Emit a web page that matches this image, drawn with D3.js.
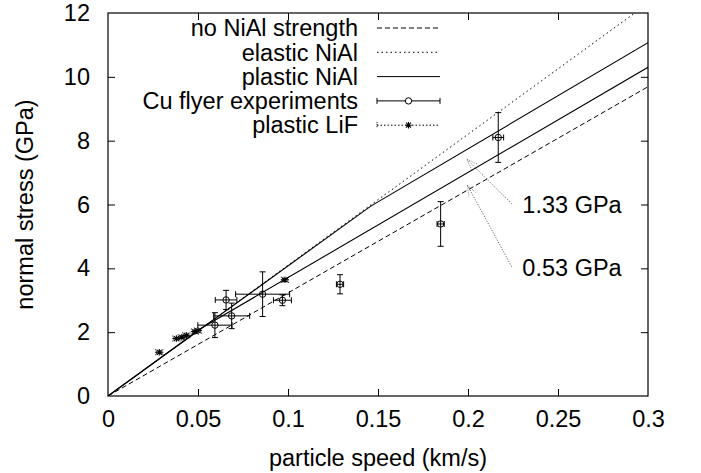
<!DOCTYPE html>
<html><head><meta charset="utf-8">
<script src="https://cdn.jsdelivr.net/npm/d3@7"></script>
<style>
html,body{margin:0;padding:0;background:#fff;}
text{font-family:"Liberation Sans",Arial,Helvetica,sans-serif;}
</style></head>
<body>
<svg id="chart" width="701" height="473"></svg>
<script>
// ---- data ----
const xTicks = [0, 0.05, 0.1, 0.15, 0.2, 0.25, 0.3];
const xTickLabels = ["0", "0.05", "0.1", "0.15", "0.2", "0.25", "0.3"];
const yTicks = [0, 2, 4, 6, 8, 10, 12];
const yTickLabels = ["0", "2", "4", "6", "8", "10", "12"];

const noStrengthU = [0, 0.3];
const noStrengthS = [0, 9.69];
const elasticU = [0, 0.3];
const elasticS = [0, 12.3];
const plastic133U = [0, 0.146, 0.3];
const plastic133S = [0, 5.95, 11.07];
const plastic053U = [0, 0.052, 0.3];
const plastic053S = [0, 2.13, 10.3];

const cuU  = [0.0594, 0.0656, 0.0687, 0.0859, 0.0969, 0.1289, 0.1848, 0.2168];
const cuS  = [2.22, 3.01, 2.51, 3.19, 3.00, 3.50, 5.39, 8.10];
const cuDU = [0.0095, 0.006, 0.010, 0.015, 0.005, 0.002, 0.002, 0.003];
const cuDS = [0.39, 0.30, 0.40, 0.70, 0.17, 0.30, 0.70, 0.78];

const lifU  = [0.0285, 0.038, 0.041, 0.0435, 0.0483, 0.050, 0.0983];
const lifS  = [1.37, 1.80, 1.84, 1.90, 2.02, 2.05, 3.64];
const lifDU = [0.002, 0.002, 0.002, 0.002, 0.002, 0.002, 0.002];
const lifDS = [0.04, 0.04, 0.04, 0.04, 0.04, 0.04, 0.04];

const legendLabels = ["no NiAl strength", "elastic NiAl", "plastic NiAl", "Cu flyer experiments", "plastic LiF"];

const annLabels = ["1.33 GPa", "0.53 GPa"];
const annTextU = [0.2302, 0.2302];
const annTextS = [5.98, 4.01];
const arrowFromU = [0.2243, 0.2243];
const arrowFromS = [6.02, 4.05];
const arrowToU = [0.1993, 0.1996];
const arrowToS = [7.42, 6.61];

// ---- layout ----
const W = 701, H = 473;
const m = {left:108, right:53, top:13, bottom:77};
const iw = W - m.left - m.right, ih = H - m.top - m.bottom;
const FS = 23.5;

const svg = d3.select("#chart");
const x = d3.scaleLinear().domain([0, 0.3]).range([m.left, m.left + iw]);
const y = d3.scaleLinear().domain([0, 12]).range([m.top + ih, m.top]);

const defs = svg.append("defs");
defs.append("clipPath").attr("id","clip").append("rect")
  .attr("x", m.left).attr("y", m.top).attr("width", iw).attr("height", ih);

// axes with inward ticks
const tickLen = 7;
const gx = svg.append("g").attr("transform", `translate(0,${m.top+ih})`)
  .call(d3.axisBottom(x).tickValues(xTicks).tickFormat((d,i)=>xTickLabels[i]).tickSizeInner(-tickLen).tickSizeOuter(0).tickPadding(14));
const gxt = svg.append("g").attr("transform", `translate(0,${m.top})`)
  .call(d3.axisTop(x).tickValues(xTicks.slice(1,-1)).tickFormat("").tickSizeInner(-tickLen).tickSizeOuter(0));
const gy = svg.append("g").attr("transform", `translate(${m.left},0)`)
  .call(d3.axisLeft(y).tickValues(yTicks).tickFormat((d,i)=>yTickLabels[i]).tickSizeInner(-tickLen).tickSizeOuter(0).tickPadding(18));
const gyr = svg.append("g").attr("transform", `translate(${m.left+iw},0)`)
  .call(d3.axisRight(y).tickValues(yTicks.slice(1,-1)).tickFormat("").tickSizeInner(-tickLen).tickSizeOuter(0));
[gx,gxt,gy,gyr].forEach(g=>{
  g.select(".domain").remove();
  g.selectAll("line").attr("stroke","#000").attr("stroke-width",1);
  g.selectAll("text").attr("font-size",FS).attr("fill","#000").style("font-family",'"Liberation Sans",Arial,sans-serif');
});
gx.selectAll(".tick").filter(d=>d===0||d===0.3).select("line").remove();
gy.selectAll(".tick").filter(d=>d===0||d===12).select("line").remove();

// frame
svg.append("rect").attr("x", m.left).attr("y", m.top).attr("width", iw).attr("height", ih)
  .attr("fill","none").attr("stroke","#000").attr("stroke-width",1.2);

// axis titles
svg.append("text").attr("x", m.left + iw/2).attr("y", 466).attr("text-anchor","middle")
  .attr("font-size",FS).text("particle speed (km/s)");
svg.append("text").attr("transform", `translate(33,${m.top+ih/2}) rotate(-90)`).attr("text-anchor","middle")
  .attr("font-size",FS).text("normal stress (GPa)");

const plot = svg.append("g").attr("clip-path","url(#clip)");
const line = d3.line().x(d=>x(d[0])).y(d=>y(d[1]));
const zip = (a,b)=>a.map((v,i)=>[v,b[i]]);

const styles = {
  dashed: "5,3",
  dotted: "1.5,3",
  solid: null,
  lif: "1.5,2"
};

plot.append("path").attr("d", line(zip(noStrengthU,noStrengthS))).attr("fill","none").attr("stroke","#000").attr("stroke-width",1).attr("stroke-dasharray",styles.dashed);
plot.append("path").attr("d", line(zip(elasticU,elasticS))).attr("fill","none").attr("stroke","#000").attr("stroke-width",1).attr("stroke-dasharray",styles.dotted);
plot.append("path").attr("d", line(zip(plastic133U,plastic133S))).attr("fill","none").attr("stroke","#000").attr("stroke-width",1.1);
plot.append("path").attr("d", line(zip(plastic053U,plastic053S))).attr("fill","none").attr("stroke","#000").attr("stroke-width",1.1);

// error bar helper
const cap = 3;
function errBars(g, u, s, du, ds, dash){
  u.forEach((uu,i)=>{
    const cx = x(uu), cy = y(s[i]);
    const x0 = x(uu-du[i]), x1 = x(uu+du[i]);
    const y0 = y(s[i]-ds[i]), y1 = y(s[i]+ds[i]);
    const segs = [
      [x0,cy,x1,cy],[x0,cy-cap,x0,cy+cap],[x1,cy-cap,x1,cy+cap],
      [cx,y0,cx,y1],[cx-cap,y0,cx+cap,y0],[cx-cap,y1,cx+cap,y1]
    ];
    segs.forEach(sg=>{
      g.append("line").attr("x1",sg[0]).attr("y1",sg[1]).attr("x2",sg[2]).attr("y2",sg[3])
        .attr("stroke","#000").attr("stroke-width",1).attr("stroke-dasharray",dash);
    });
  });
}
function star(g, cx, cy, r){
  const p = `M${cx-r},${cy}L${cx+r},${cy}M${cx},${cy-r}L${cx},${cy+r}M${cx-r*0.75},${cy-r*0.75}L${cx+r*0.75},${cy+r*0.75}M${cx-r*0.75},${cy+r*0.75}L${cx+r*0.75},${cy-r*0.75}`;
  g.append("path").attr("d",p).attr("stroke","#000").attr("stroke-width",1.1).attr("fill","none");
}

errBars(plot, cuU, cuS, cuDU, cuDS, null);
cuU.forEach((uu,i)=>{
  plot.append("circle").attr("cx",x(uu)).attr("cy",y(cuS[i])).attr("r",3.2).attr("fill","none").attr("stroke","#000").attr("stroke-width",1);
});
errBars(plot, lifU, lifS, lifDU, lifDS, "1,1.5");
lifU.forEach((uu,i)=> star(plot, x(uu), y(lifS[i]), 3.3));

// annotations
defs.append("marker").attr("id","ah").attr("viewBox","0 0 12 10").attr("refX",11).attr("refY",5)
  .attr("markerWidth",12).attr("markerHeight",10).attr("markerUnits","userSpaceOnUse").attr("orient","auto")
  .append("path").attr("d","M0,1L11,5L0,9").attr("fill","none").attr("stroke","#777").attr("stroke-width",0.8).attr("stroke-dasharray","1,1");
annLabels.forEach((t,i)=>{
  svg.append("line").attr("x1",x(arrowFromU[i])).attr("y1",y(arrowFromS[i])).attr("x2",x(arrowToU[i])).attr("y2",y(arrowToS[i]))
    .attr("stroke","#666").attr("stroke-width",1).attr("stroke-dasharray","1.2,1.5").attr("marker-end","url(#ah)");
  svg.append("text").attr("x",x(annTextU[i])).attr("y",y(annTextS[i])).attr("dy","0.35em")
    .attr("font-size",FS).text(t);
});

// legend
const legTextX = 358, legS0 = 377, legS1 = 440, legY0 = 28, legDY = 24.3;
legendLabels.forEach((t,i)=>{
  const yy = legY0 + i*legDY;
  svg.append("text").attr("x",legTextX).attr("y",yy).attr("dy","0.35em").attr("text-anchor","end")
    .attr("font-size",FS).text(t);
  const mid = (legS0+legS1)/2;
  const dash = i===0?styles.dashed : i===1?styles.dotted : i===4?styles.lif : null;
  svg.append("line").attr("x1",legS0).attr("x2",legS1).attr("y1",yy).attr("y2",yy)
    .attr("stroke","#000").attr("stroke-width",1).attr("stroke-dasharray",dash);
  if(i===3){
    [legS0,legS1].forEach(xx=>svg.append("line").attr("x1",xx).attr("x2",xx).attr("y1",yy-cap).attr("y2",yy+cap).attr("stroke","#000"));
    svg.append("circle").attr("cx",mid).attr("cy",yy).attr("r",3.2).attr("fill","#fff").attr("stroke","#000");
  }
  if(i===4){
    svg.append("line").attr("x1",legS0).attr("x2",legS0).attr("y1",yy-cap).attr("y2",yy+cap).attr("stroke","#000").attr("stroke-dasharray","1,1");
    star(svg, mid, yy, 3.3);
  }
});
</script>
</body></html>
